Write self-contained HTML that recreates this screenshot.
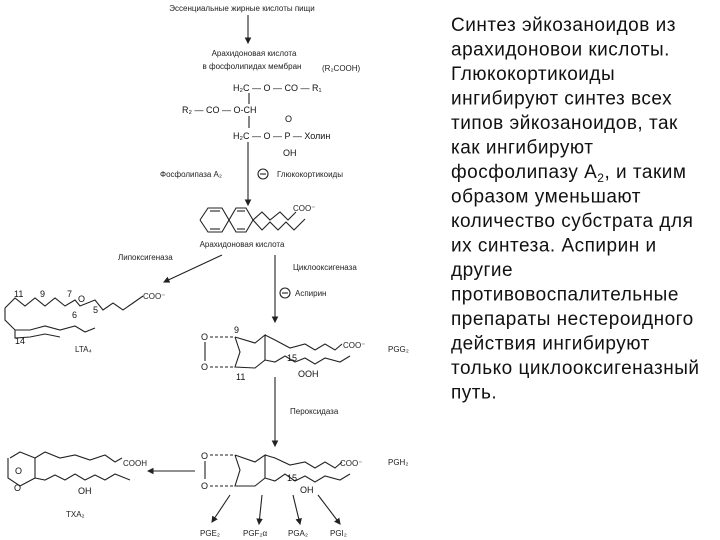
<!DOCTYPE html>
<html><head><meta charset="utf-8"><style>
html,body{margin:0;padding:0;background:#fff;}
svg{display:block}
.d{font-family:"Liberation Sans",sans-serif;font-size:8px;fill:#222}
.b{font-family:"Liberation Sans",sans-serif;font-size:9px;fill:#111}
.r{font-family:"Liberation Sans",sans-serif;font-size:19px;letter-spacing:0.5px;fill:#111}
line,polyline,path,circle{stroke:#222;stroke-width:1.1;fill:none}
</style></head><body>
<svg width="720" height="540" viewBox="0 0 720 540">
<defs><marker id="a" markerWidth="6" markerHeight="6" refX="5" refY="3" orient="auto"><path d="M0,0 L6,3 L0,6 z" style="fill:#222;stroke:none"/></marker></defs>
<text class="d" x="242" y="11" text-anchor="middle">Эссенциальные жирные кислоты пищи</text>
<line x1="248" y1="15" x2="248" y2="43" marker-end="url(#a)"/>
<text class="d" x="254" y="56" text-anchor="middle">Арахидоновая кислота</text>
<text class="d" x="252" y="69" text-anchor="middle">в фосфолипидах мембран</text>
<text class="d" x="322" y="71">(R₂COOH)</text>
<text class="b" x="233" y="91">H₂C — O — CO — R₁</text>
<text class="b" x="182" y="113">R₂ — CO — O-CH</text>
<line x1="249" y1="93" x2="249" y2="104"/>
<line x1="249" y1="116" x2="249" y2="128"/>
<text class="b" x="233" y="139">H₂C — O — P — Холин</text>
<text class="b" x="285" y="122">O</text>
<text class="b" x="283" y="156">OH</text>
<line x1="248" y1="142" x2="248" y2="205" marker-end="url(#a)"/>
<text class="d" x="160" y="177">Фосфолипаза A₂</text>
<circle cx="263" cy="174" r="5"/><line x1="260" y1="174" x2="266" y2="174"/>
<text class="d" x="277" y="177">Глюкокортикоиды</text>
<!-- arachidonic -->
<polyline points="200,220 208,208 222,208 229,220 236,208 246,208 253,220 262,212 270,220 280,212 288,220 296,212"/>
<polyline points="200,220 208,232 222,232 229,220 236,232 246,232 253,220 262,230 270,222 278,230 286,222 294,230 302,222 305,219"/>
<line x1="210" y1="211" x2="220" y2="211"/><line x1="210" y1="229" x2="220" y2="229"/><line x1="237" y1="211" x2="245" y2="211"/><line x1="237" y1="229" x2="245" y2="229"/>
<text class="d" x="293" y="211">COO⁻</text>
<text class="d" x="242" y="247" text-anchor="middle">Арахидоновая кислота</text>
<text class="d" x="118" y="260">Липоксигеназа</text>
<line x1="222" y1="255" x2="164" y2="282" marker-end="url(#a)"/>
<line x1="275" y1="255" x2="275" y2="322" marker-end="url(#a)"/>
<text class="d" x="293" y="270">Циклооксигеназа</text>
<circle cx="285" cy="293" r="5"/><line x1="282" y1="293" x2="288" y2="293"/>
<text class="d" x="295" y="296">Аспирин</text>
<!-- LTA4 -->
<polyline points="5,308 15,298 25,306 35,298 45,306 55,298 65,306 75,300 80,306 95,300 103,310 113,303 123,310 133,303 143,296"/>
<polyline points="5,308 5,320 15,330 30,330 45,326 60,330 75,326 85,332 95,328"/>
<polyline points="15,330 15,338 30,337 45,334 60,337"/>
<text class="b" x="14" y="297">11</text><text class="b" x="40" y="297">9</text><text class="b" x="67" y="297">7</text>
<text class="b" x="78" y="302">O</text><text class="b" x="93" y="313">5</text><text class="b" x="72" y="318">6</text><text class="b" x="15" y="344">14</text>
<text class="d" x="143" y="299">COO⁻</text>
<text class="d" x="75" y="352">LTA₄</text>
<!-- PGG2 -->
<text class="b" x="201" y="340">O</text><text class="b" x="201" y="370">O</text>
<line x1="205" y1="342" x2="205" y2="361"/>
<line x1="210" y1="337" x2="235" y2="337" stroke-dasharray="3,2"/>
<line x1="210" y1="367" x2="235" y2="367" stroke-dasharray="3,2"/>
<polyline points="235,337 255,343 265,335 265,360 255,368 235,367 240,352 235,337"/>
<polyline points="265,335 275,340 290,348 305,344 315,350 325,344 335,350 342,344"/>
<polyline points="265,360 275,362 285,356 295,362 305,358 315,364 325,358 340,362 350,356"/>
<text class="b" x="234" y="333">9</text><text class="b" x="236" y="380">11</text><text class="b" x="287" y="361">15</text>
<text class="b" x="298" y="377">OOH</text>
<text class="d" x="343" y="348">COO⁻</text>
<text class="d" x="388" y="352">PGG₂</text>
<line x1="275" y1="377" x2="275" y2="446" marker-end="url(#a)"/>
<text class="d" x="290" y="414">Пероксидаза</text>
<!-- PGH2 -->
<text class="b" x="201" y="459">O</text><text class="b" x="201" y="489">O</text>
<line x1="205" y1="461" x2="205" y2="479"/>
<line x1="210" y1="455" x2="235" y2="455" stroke-dasharray="3,2"/>
<line x1="210" y1="486" x2="235" y2="486" stroke-dasharray="3,2"/>
<polyline points="235,455 255,462 265,455 265,478 255,486 235,486 240,470 235,455"/>
<polyline points="265,455 275,458 290,465 305,462 315,468 325,462 335,468 342,462"/>
<polyline points="265,478 275,481 285,474 295,481 305,476 315,482 325,476 340,480 350,474"/>
<text class="b" x="287" y="481">15</text><text class="b" x="300" y="493">OH</text>
<text class="d" x="340" y="466">COO⁻</text>
<text class="d" x="388" y="465">PGH₂</text>
<line x1="195" y1="471" x2="148" y2="471" marker-end="url(#a)"/>
<!-- TXA2 -->
<polyline points="10,458 20,452 35,458 35,478 20,486 8,478 8,458"/>
<text class="b" x="15" y="474">O</text><text class="b" x="14" y="491">O</text>
<polyline points="35,458 45,452 60,458 75,455 90,460 105,455 115,462 122,458"/>
<polyline points="35,478 45,480 55,475 65,480 75,474 85,480 95,475 105,480 115,474 130,480"/>
<text class="d" x="123" y="466">COOH</text>
<text class="b" x="78" y="494">OH</text>
<text class="d" x="66" y="517">TXA₂</text>
<line x1="230" y1="495" x2="212" y2="522" marker-end="url(#a)"/>
<line x1="262" y1="495" x2="259" y2="524" marker-end="url(#a)"/>
<line x1="293" y1="495" x2="300" y2="524" marker-end="url(#a)"/>
<line x1="318" y1="495" x2="340" y2="524" marker-end="url(#a)"/>
<text class="d" x="200" y="536">PGE₂</text><text class="d" x="243" y="536">PGF₂α</text>
<text class="d" x="288" y="536">PGA₂</text><text class="d" x="330" y="536">PGI₂</text>
<g class="r">
<text x="451" y="31">Синтез эйкозаноидов из</text>
<text x="451" y="55.5">арахидоновои кислоты.</text>
<text x="451" y="80">Глюкокортикоиды</text>
<text x="451" y="104.5">ингибируют синтез всех</text>
<text x="451" y="129">типов эйкозаноидов, так</text>
<text x="451" y="153.5">как ингибируют</text>
<text x="451" y="178">фосфолипазу А<tspan font-size="12" dy="4">2</tspan><tspan dy="-4">, и таким</tspan></text>
<text x="451" y="202.5">образом уменьшают</text>
<text x="451" y="227">количество субстрата для</text>
<text x="451" y="251.5">их синтеза. Аспирин и</text>
<text x="451" y="276">другие</text>
<text x="451" y="300.5">противовоспалительные</text>
<text x="451" y="325">препараты нестероидного</text>
<text x="451" y="349.5">действия ингибируют</text>
<text x="451" y="374">только циклооксигеназный</text>
<text x="451" y="398.5">путь.</text>
</g>
</svg>
</body></html>
